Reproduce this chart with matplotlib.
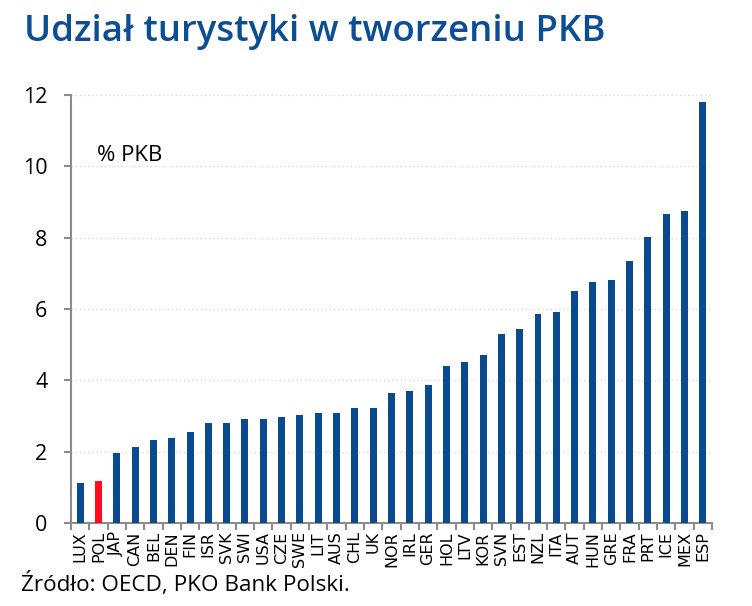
import matplotlib
matplotlib.use("Agg")
import matplotlib.pyplot as plt
import numpy as np

countries = ["LUX", "POL", "JAP", "CAN", "BEL", "DEN", "FIN", "ISR", "SVK", "SWI",
             "USA", "CZE", "SWE", "LIT", "AUS", "CHL", "UK", "NOR", "IRL", "GER",
             "HOL", "LTV", "KOR", "SVN", "EST", "NZL", "ITA", "AUT", "HUN", "GRE",
             "FRA", "PRT", "ICE", "MEX", "ESP"]
values = [1.12, 1.18, 1.96, 2.13, 2.33, 2.38, 2.55, 2.80, 2.80, 2.92,
          2.92, 2.97, 3.03, 3.08, 3.08, 3.22, 3.22, 3.64, 3.70, 3.87,
          4.41, 4.52, 4.70, 5.31, 5.43, 5.85, 5.91, 6.51, 6.76, 6.81,
          7.35, 8.02, 8.67, 8.74, 11.80]
highlight = "POL"
yticks = [0, 2, 4, 6, 8, 10, 12]

BLUE = "#0A4A8E"
RED = "#FF0A1E"
AXC = "#8C8C8C"

fig = plt.figure(figsize=(7.52, 6.06), dpi=100)
ax = fig.add_axes([0.0944, 0.137, 0.8524, 0.706])

x = np.arange(len(countries))
colors = [RED if c == highlight else BLUE for c in countries]
ax.bar(x, values, width=0.38, color=colors, zorder=3)

ax.set_xlim(-0.5, len(countries) - 0.5)
ax.set_ylim(0, 12)
ax.set_yticks(yticks)
ax.set_yticklabels([str(v) for v in yticks], fontsize=15.5, family=["Open Sans", "DejaVu Sans"])
for y in yticks[1:]:
    ax.axhline(y, color="#D9D9D9", lw=1, ls=(0, (1, 2)), zorder=1)

ax.set_xticks(x)
ax.set_xticklabels(countries, rotation=90, fontsize=11.5,
                   family=["Liberation Sans Narrow", "DejaVu Sans"])
ax.tick_params(axis="x", length=0, pad=6)
ax.set_xticks(np.arange(-0.5, len(countries), 1), minor=True)
ax.tick_params(axis="x", which="minor", length=5, color=AXC, width=1.5, direction="out")
ax.tick_params(axis="y", length=5, color=AXC, width=1.5, pad=12)

for s in ["top", "right"]:
    ax.spines[s].set_visible(False)
for s in ["left", "bottom"]:
    ax.spines[s].set_color(AXC)
    ax.spines[s].set_linewidth(1.5)

ax.text(0.04, 0.86, "% PKB", transform=ax.transAxes, fontsize=16,
        family=["Open Sans", "DejaVu Sans"], va="center")

fig.text(0.032, 0.947, "Udział turystyki w tworzeniu PKB", fontsize=26.3, fontweight="semibold",
         color="#0B4E96", family=["Open Sans", "DejaVu Sans"], va="center")
fig.text(0.028, 0.037, "Źródło: OECD, PKO Bank Polski.", fontsize=16.2,
         family=["Open Sans", "DejaVu Sans"], va="center")

fig.savefig("out.png", dpi=100)
